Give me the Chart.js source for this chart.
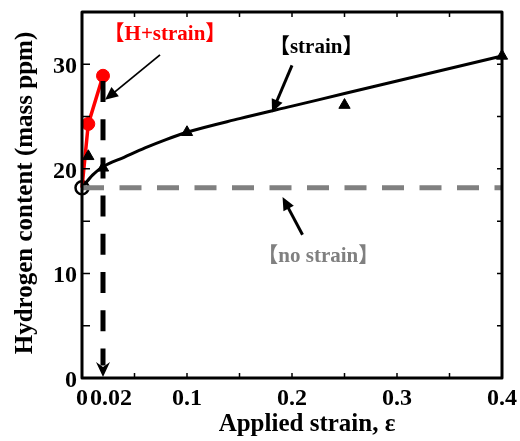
<!DOCTYPE html>
<html>
<head>
<meta charset="utf-8">
<script src="https://cdn.jsdelivr.net/npm/chart.js@4.4.1/dist/chart.umd.min.js"></script>
<style>
html, body { margin: 0; padding: 0; background: #fff; }
#wrap { width: 520px; height: 441px; }
</style>
</head>
<body>
<div id="wrap"><canvas id="myChart" width="520" height="441"></canvas></div>
<script>
// no strain（水素チャージのみ）
var noStrainX = [0, 0.4];
var noStrainY = [18.2, 18.2];
// H+strain
var hStrainX = [0, 0.006, 0.02];
var hStrainY = [18.2, 24.3, 28.9];
// strain 測定点
var strainX = [0.006, 0.02, 0.1, 0.25, 0.4];
var strainY = [21.2, 20.1, 23.5, 26.1, 30.8];
// strain 近似曲線
var fitX = [0, 0.01, 0.02, 0.04, 0.06, 0.08, 0.1, 0.15, 0.2, 0.25, 0.3, 0.35, 0.4];
var fitY = [18.2, 19.4, 20.2, 21.1, 22.0, 22.8, 23.5, 24.8, 26.0, 27.2, 28.4, 29.6, 30.8];
// 縦の破線 (ε = 0.02)
var dropX = [0.02, 0.02];
var dropY = [28.4, 1.2];
// 目盛
var xTicks = [0, 0.02, 0.1, 0.2, 0.3, 0.4];
var yTicks = [0, 10, 20, 30];
var xMinor = [0.05, 0.1, 0.15, 0.2, 0.25, 0.3, 0.35];
var yMinor = [5, 10, 15, 20, 25, 30];

function pts(xs, ys) {
  return xs.map(function (x, i) { return { x: x, y: ys[i] }; });
}

var FONT = "'Liberation Serif', 'Noto Sans CJK JP', serif";

function arrow(ctx, x1, y1, x2, y2, w, head) {
  var a = Math.atan2(y2 - y1, x2 - x1);
  var c = Math.cos(a), s = Math.sin(a);
  ctx.save();
  ctx.strokeStyle = '#000';
  ctx.fillStyle = '#000';
  ctx.lineWidth = w;
  ctx.beginPath();
  ctx.moveTo(x1, y1);
  ctx.lineTo(x2 - c * head * 0.7, y2 - s * head * 0.7);
  ctx.stroke();
  ctx.beginPath();
  ctx.moveTo(x2, y2);
  ctx.lineTo(x2 - head * c + head * 0.45 * s, y2 - head * s - head * 0.45 * c);
  ctx.lineTo(x2 - head * c - head * 0.45 * s, y2 - head * s + head * 0.45 * c);
  ctx.closePath();
  ctx.fill();
  ctx.restore();
}

var framePlugin = {
  id: 'frame',
  afterDatasetsDraw: function (chart) {
    var ctx = chart.ctx;
    var xs = chart.scales.x, ys = chart.scales.y;
    var a = chart.chartArea;

    // 縦破線の矢じり
    var tx = xs.getPixelForValue(0.02), ty = a.bottom - 1;
    ctx.save();
    ctx.fillStyle = '#000';
    ctx.beginPath();
    ctx.moveTo(tx, ty);
    ctx.lineTo(tx - 7, ty - 15);
    ctx.lineTo(tx, ty - 10);
    ctx.lineTo(tx + 7, ty - 15);
    ctx.closePath();
    ctx.fill();
    ctx.restore();

    // 枠と目盛
    ctx.save();
    ctx.strokeStyle = '#000';
    ctx.lineWidth = 1.5;
    xMinor.forEach(function (v) {
      var px = xs.getPixelForValue(v);
      ctx.beginPath();
      ctx.moveTo(px, a.bottom); ctx.lineTo(px, a.bottom - 5);
      ctx.moveTo(px, a.top); ctx.lineTo(px, a.top + 5);
      ctx.stroke();
    });
    yMinor.forEach(function (v) {
      var py = ys.getPixelForValue(v);
      ctx.beginPath();
      ctx.moveTo(a.left, py); ctx.lineTo(a.left + 8, py);
      ctx.moveTo(a.right, py); ctx.lineTo(a.right - 5, py);
      ctx.stroke();
    });
    ctx.lineWidth = 3;
    ctx.lineJoin = 'round';
    ctx.strokeRect(a.left, a.top, a.right - a.left, a.bottom - a.top);
    ctx.restore();

    // 目盛ラベル
    ctx.save();
    ctx.fillStyle = '#000';
    ctx.font = 'bold 24px ' + FONT;
    ctx.textBaseline = 'alphabetic';
    ctx.textAlign = 'right';
    yTicks.forEach(function (v) {
      ctx.fillText(String(v), a.left - 5, ys.getPixelForValue(v) + 9);
    });
    xTicks.forEach(function (v) {
      var px = xs.getPixelForValue(v);
      if (v === 0.02) {
        ctx.textAlign = 'left';
        ctx.fillText('0.02', xs.getPixelForValue(0) + 8, 405);
      } else {
        ctx.textAlign = 'center';
        ctx.fillText(String(v), px, 405);
      }
    });

    // 軸タイトル
    ctx.font = 'bold 25px ' + FONT;
    ctx.textAlign = 'center';
    ctx.fillText('Applied strain, ε', 307, 431);
    ctx.save();
    ctx.translate(32, (a.top + a.bottom) / 2 - 2);
    ctx.rotate(-Math.PI / 2);
    ctx.fillText('Hydrogen content (mass ppm)', 0, 0);
    ctx.restore();

    // 注釈
    ctx.font = 'bold 21px ' + FONT;
    ctx.textBaseline = 'middle';
    ctx.fillStyle = '#ff0000';
    ctx.fillText('【H+strain】', xs.getPixelForValue(0.079), ys.getPixelForValue(32.8));
    ctx.fillStyle = '#000';
    ctx.fillText('【strain】', xs.getPixelForValue(0.223), ys.getPixelForValue(31.6));
    ctx.fillStyle = '#808080';
    ctx.fillText('【no strain】', xs.getPixelForValue(0.225), ys.getPixelForValue(11.6));
    ctx.restore();

    arrow(ctx, xs.getPixelForValue(0.0743), ys.getPixelForValue(30.9),
      xs.getPixelForValue(0.022), ys.getPixelForValue(26.6), 1.8, 13);
    arrow(ctx, xs.getPixelForValue(0.200), ys.getPixelForValue(29.9),
      xs.getPixelForValue(0.181), ys.getPixelForValue(25.4), 3, 13);
    arrow(ctx, xs.getPixelForValue(0.210), ys.getPixelForValue(13.7),
      xs.getPixelForValue(0.191), ys.getPixelForValue(17.3), 3, 13);
  }
};

var ctx = document.getElementById('myChart');

var myChart = new Chart(ctx, {
  type: 'scatter',
  data: {
    datasets: [
      {
        // no strain 破線
        data: pts(noStrainX, noStrainY),
        showLine: true,
        borderColor: '#808080',
        borderWidth: 5,
        borderDash: [22, 15.5],
        borderCapStyle: 'butt',
        pointRadius: 0
      },
      {
        // ε=0.02 の縦破線
        data: pts(dropX, dropY),
        showLine: true,
        borderColor: '#000',
        borderWidth: 5,
        borderDash: [21, 17.2],
        borderCapStyle: 'butt',
        pointRadius: 0
      },
      {
        // strain 近似曲線
        data: pts(fitX, fitY),
        showLine: true,
        borderColor: '#000',
        borderWidth: 3,
        cubicInterpolationMode: 'monotone',
        pointRadius: 0
      },
      {
        // strain 測定点
        data: pts(strainX, strainY),
        showLine: false,
        pointStyle: 'triangle',
        pointRadius: 6.5,
        backgroundColor: '#000',
        borderColor: '#000',
        borderWidth: 1
      },
      {
        // H+strain
        data: pts(hStrainX, hStrainY),
        showLine: true,
        borderColor: '#ff0000',
        borderWidth: 3.5,
        pointRadius: [0, 6.5, 6.5],
        pointBackgroundColor: '#ff0000',
        pointBorderColor: '#ff0000',
        pointBorderWidth: 1
      },
      {
        // 初期値（白抜き丸）
        data: pts([0], [18.2]),
        showLine: false,
        pointRadius: 6.5,
        pointBackgroundColor: '#fff',
        pointBorderColor: '#000',
        pointBorderWidth: 2.5
      }
    ]
  },
  options: {
    responsive: false,
    animation: false,
    clip: false,
    layout: { padding: { left: 82, right: 18, top: 12, bottom: 63 } },
    plugins: {
      legend: { display: false },
      tooltip: { enabled: false }
    },
    scales: {
      x: { type: 'linear', min: 0, max: 0.4, display: false },
      y: { type: 'linear', min: 0, max: 35, display: false }
    }
  },
  plugins: [framePlugin]
});
</script>
</body>
</html>
